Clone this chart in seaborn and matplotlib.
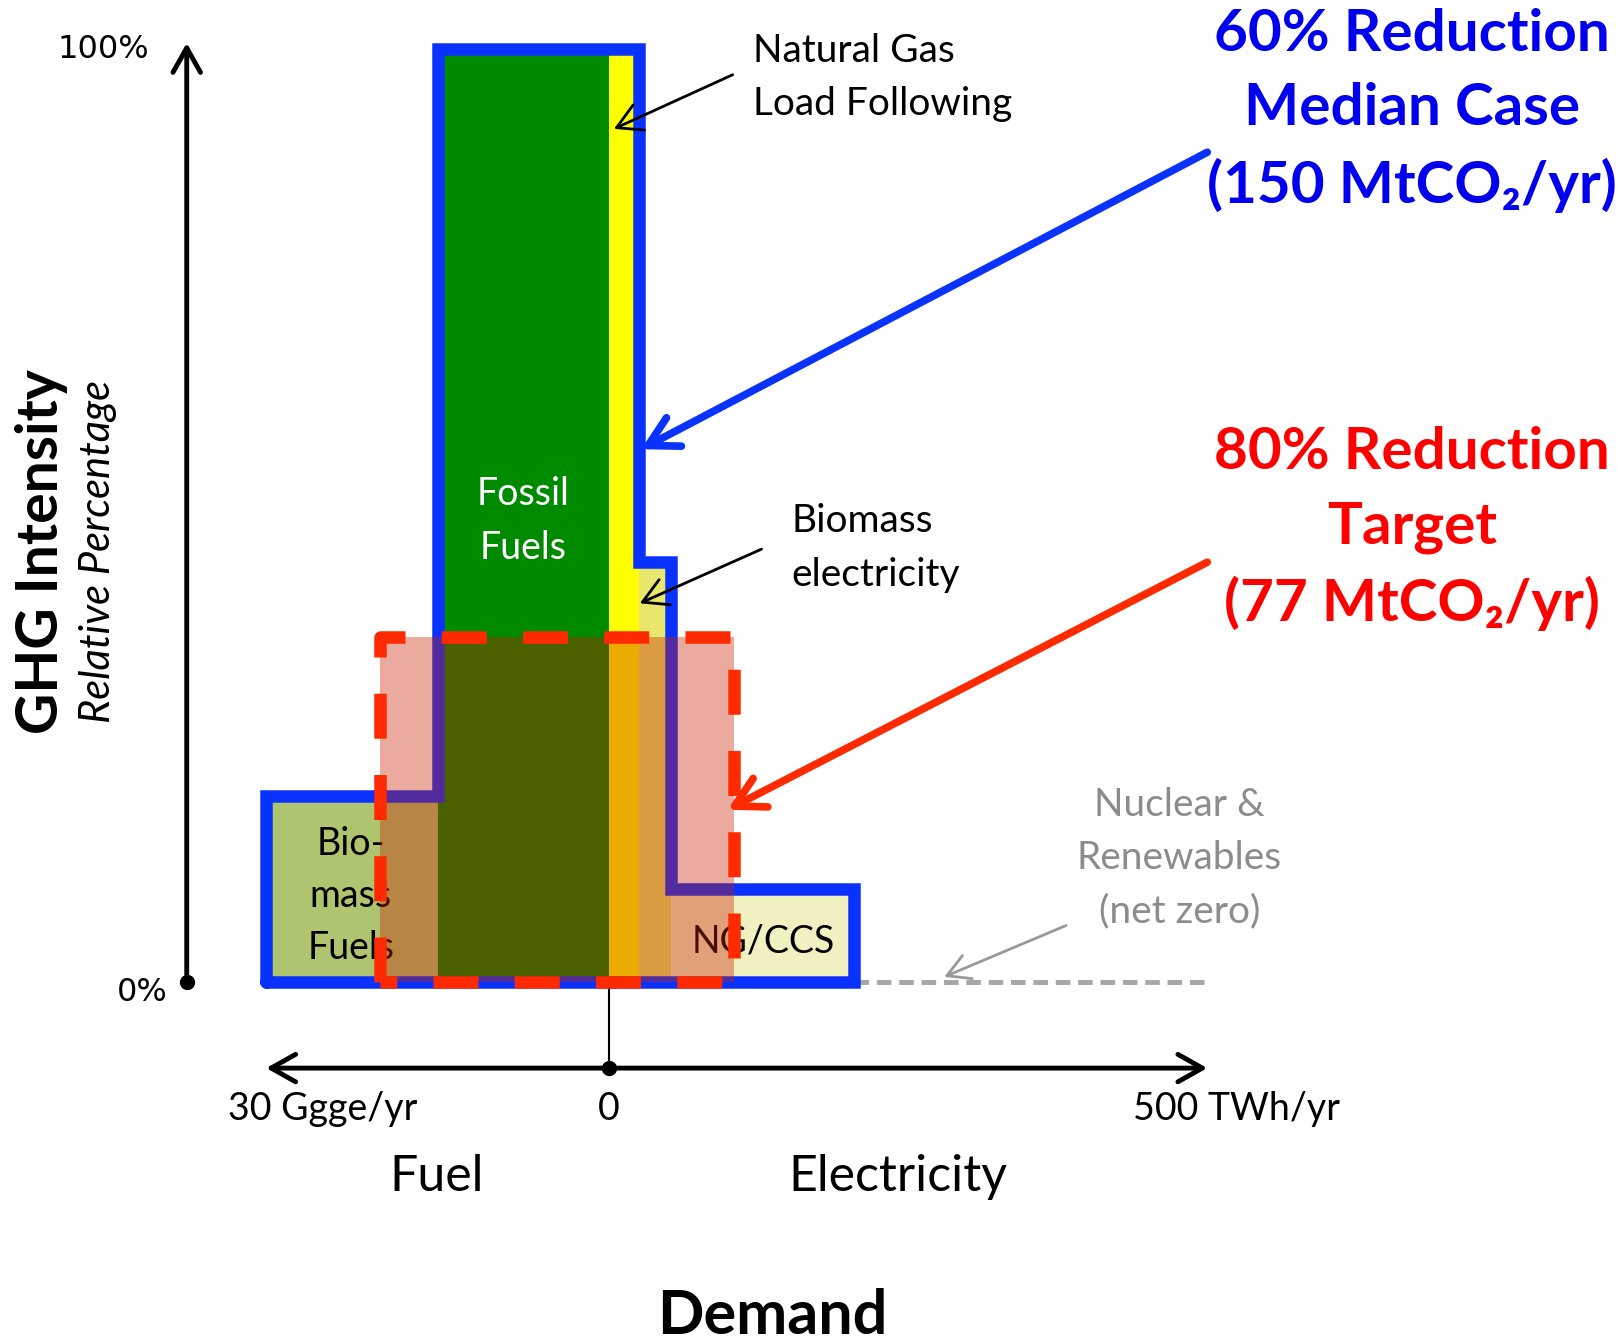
import numpy as np
import pandas as pd
import matplotlib
matplotlib.use("Agg")
import matplotlib.pyplot as plt
from matplotlib.patches import Rectangle
import seaborn as sns

# demand of each source and its GHG intensity (% of the highest)
# fuel side in Ggge/yr, electricity side in TWh/yr
fuel_sources = ["Fossil Fuels", "Biomass Fuels"]
fuel_demand = [15, 15]
fuel_intensity = [100, 20]
fuel_colors = ["#008a00", "#aec46e"]

elec_sources = ["Natural Gas Load Following", "Biomass electricity", "NG/CCS", "Nuclear & Renewables"]
elec_demand = [25, 27, 153, 295]
elec_intensity = [100, 45, 10, 0]
elec_colors = ["#ffff00", "#e7e76b", "#f1f0c0", "none"]

# 80% reduction target
target_fuel = 20      # Ggge/yr
target_elec = 105     # TWh/yr
target_intensity = 37

fuel_max = 30    # Ggge/yr
elec_max = 500   # TWh/yr
FUEL_SCALE = 9.54   # drawing units per Ggge (electricity side: 1 unit = 1 TWh)

sns.set_theme(style="white")
plt.rcParams["font.family"] = ["Lato", "DejaVu Sans"]
plt.rcParams["text.color"] = "black"

# table of the blocks, left to right
rows = []
edge = 0
for name, d, h, c in zip(fuel_sources, fuel_demand, fuel_intensity, fuel_colors):
    w = d * FUEL_SCALE
    rows.append([name, edge - w, w, h, c])
    edge -= w
edge = 0
for name, d, h, c in zip(elec_sources, elec_demand, elec_intensity, elec_colors):
    rows.append([name, edge, d, h, c])
    edge += d
df = pd.DataFrame(rows, columns=["source", "left", "width", "intensity", "color"])
df = df.sort_values("left").reset_index(drop=True)

fig = plt.figure(figsize=(16.18, 13.42), dpi=100)
ax = fig.add_axes([0, 0, 1, 1])
ax.set_xlim(-508.6, 843.1)
ax.set_ylim(-38.5, 105.2)
ax.axis("off")

blocks = df[df.intensity > 0]
ax.bar(blocks.left, blocks.intensity, width=blocks.width, align="edge",
       color=blocks.color, linewidth=0, zorder=1)

# blue outline = median case
xs = [blocks.left.iloc[0]]
ys = [0]
hs = list(blocks.intensity)
rs = list(blocks.left + blocks.width)
for i in range(len(hs)):
    if i == 0:
        xs.append(blocks.left.iloc[0]); ys.append(hs[0])
    else:
        xs.append(rs[i - 1]); ys.append(hs[i])
    xs.append(rs[i]); ys.append(hs[i])
xs += [rs[-1], blocks.left.iloc[0]]
ys += [0, 0]
ax.plot(xs, ys, color="#0a32ff", lw=9, solid_joinstyle="miter", zorder=2)

# nuclear & renewables at zero
nr = df[df.intensity == 0]
zero_line = pd.DataFrame({"x": [nr.left.iloc[0], nr.left.iloc[0] + nr.width.iloc[0]], "y": [0, 0]})
sns.lineplot(data=zero_line, x="x", y="y", ax=ax, color="#a6a6a6", lw=3.5,
             dashes=False, linestyle=(0, (3, 1.6)), sort=False, estimator=None, zorder=1)

# 80% target box
tl = -target_fuel * FUEL_SCALE
ax.add_patch(Rectangle((tl, 0), target_elec - tl, target_intensity,
                       facecolor=(200 / 255, 32 / 255, 0), alpha=0.38, lw=0, zorder=3))
ax.plot([tl, tl, target_elec, target_elec, tl],
        [0, target_intensity, target_intensity, 0, 0],
        color="#ff2a00", lw=9, dashes=(3.6, 2.9), dash_capstyle="butt", zorder=4)

# block labels
ax.text(-71.5, 49.4, "Fossil\nFuels", color="white", fontsize=27, ha="center", va="center",
        linespacing=1.6, zorder=5)
ax.text(-215.5, 9.3, "Bio-\nmass\nFuels", color="black", fontsize=27, ha="center", va="center",
        linespacing=1.55, zorder=2.5)
ax.text(129.3, 4.4, "NG/CCS", color="black", fontsize=27, ha="center", va="center", zorder=2.5)

# callouts
thin = dict(arrowstyle="->,head_length=0.8,head_width=0.45", color="black", lw=2,
            shrinkA=0, shrinkB=0, mutation_scale=22)
ax.annotate("", xy=(4.3, 91.4), xytext=(103.5, 97.2), arrowprops=thin, zorder=6)
ax.annotate("", xy=(25.9, 40.6), xytext=(127.6, 46.4), arrowprops=thin, zorder=6)
ax.text(120.7, 96.9, "Natural Gas\nLoad Following", fontsize=28, ha="left", va="center",
        linespacing=1.6)
ax.text(152.6, 46.5, "Biomass\nelectricity", fontsize=28, ha="left", va="center", linespacing=1.6)

gray = dict(arrowstyle="->,head_length=0.8,head_width=0.45", color="#999999", lw=2,
            shrinkA=0, shrinkB=0, mutation_scale=20)
ax.annotate("", xy=(280.2, 0.6), xytext=(382, 6.1), arrowprops=gray, zorder=6)
ax.text(476.8, 13.3, "Nuclear &\nRenewables\n(net zero)", color="#8c8c8c", fontsize=28,
        ha="center", va="center", linespacing=1.6)

big = dict(arrowstyle="->,head_length=1.0,head_width=0.55", lw=5.5, shrinkA=0, shrinkB=0,
           mutation_scale=21)
ax.annotate("", xy=(27, 57.1), xytext=(500, 88.9), arrowprops=dict(big, color="#0a32ff"), zorder=6)
ax.annotate("", xy=(99.2, 18.5), xytext=(500, 45.0), arrowprops=dict(big, color="#ff2a00"), zorder=6)
ax.text(670.7, 93.4, "60% Reduction\nMedian Case\n(150 MtCO₂/yr)", color="#0000ee",
        fontsize=42, fontweight="bold", ha="center", va="center", linespacing=1.5)
ax.text(670.7, 48.6, "80% Reduction\nTarget\n(77 MtCO₂/yr)", color="#ff0000",
        fontsize=42, fontweight="bold", ha="center", va="center", linespacing=1.5)

# y axis
yx = -352.6
ax.annotate("", xy=(yx, 100.6), xytext=(yx, 0),
            arrowprops=dict(arrowstyle="->,head_length=0.8,head_width=0.45", color="black",
                            lw=3.5, shrinkA=0, shrinkB=0, mutation_scale=22))
ax.plot([yx], [0], "o", color="black", ms=10)
ax.text(-422.5, 99.9, "100%", fontsize=23, family="DejaVu Sans", ha="center", va="center")
ax.text(-389.6, -1.1, "0%", fontsize=23, family="DejaVu Sans", ha="center", va="center")
ax.text(-474, 46.1, "GHG Intensity", fontsize=41, fontweight="bold",
        rotation=90, ha="center", va="center")
ax.text(-426.7, 46.1, "Relative Percentage", fontsize=30, style="italic",
        rotation=90, ha="center", va="center")

# x axis
xy_ = -9.17
ax.annotate("", xy=(-fuel_max * FUEL_SCALE, xy_), xytext=(elec_max, xy_),
            arrowprops=dict(arrowstyle="<->,head_length=0.8,head_width=0.45", color="black",
                            lw=3.5, shrinkA=0, shrinkB=0, mutation_scale=22))
ax.plot([0, 0], [0, xy_], color="black", lw=1.5, zorder=0.5)
ax.plot([0], [xy_], "o", color="black", ms=10)
ax.text(-238.8, -13.6, f"{fuel_max} Ggge/yr", fontsize=27, ha="center", va="center")
ax.text(0, -13.6, "0", fontsize=27, ha="center", va="center")
ax.text(524.2, -13.6, f"{elec_max} TWh/yr", fontsize=27, ha="center", va="center")
ax.text(-144, -20.8, "Fuel", fontsize=36, ha="center", va="center")
ax.text(241.4, -20.8, "Electricity", fontsize=36, ha="center", va="center")
ax.text(136.2, -35.7, "Demand", fontsize=44, fontweight="bold", ha="center", va="center")

fig.savefig("out.png", dpi=100)
